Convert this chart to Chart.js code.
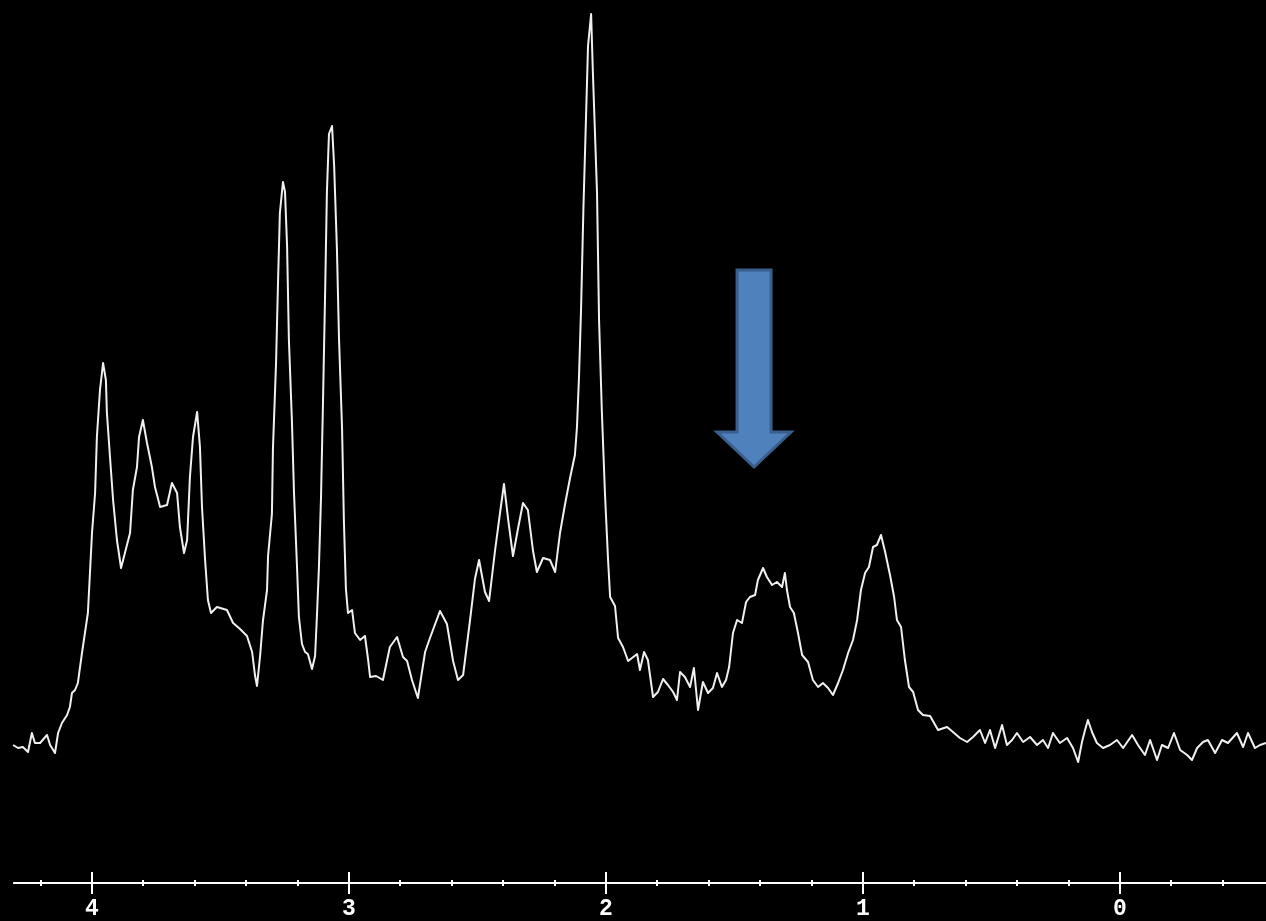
<!DOCTYPE html>
<html>
<head>
<meta charset="utf-8">
<script src="https://cdn.jsdelivr.net/npm/chart.js@4/dist/chart.umd.min.js"></script>
<style>
  html, body { margin: 0; padding: 0; background: #000; overflow: hidden; }
  canvas { display: block; }
</style>
</head>
<body>
<canvas id="spectrum" width="1266" height="921"></canvas>
<script>
// chemical shift (ppm) from left to right
var shiftPpm = [
  4.307, 4.288, 4.269, 4.249, 4.234, 4.222, 4.202, 4.175, 4.163, 4.144,
  4.132, 4.117, 4.097, 4.086, 4.078, 4.066, 4.055, 4.039, 4.016, 4.008,
  4.000, 3.988, 3.981, 3.969, 3.957, 3.946, 3.942, 3.930, 3.918, 3.903,
  3.887, 3.872, 3.852, 3.841, 3.825, 3.817, 3.802, 3.786, 3.767, 3.755,
  3.735, 3.708, 3.689, 3.669, 3.658, 3.642, 3.630, 3.619, 3.607, 3.591,
  3.580, 3.572, 3.560, 3.549, 3.537, 3.514, 3.475, 3.451, 3.424, 3.397,
  3.377, 3.366, 3.358, 3.346, 3.335, 3.319, 3.315, 3.300, 3.296, 3.284,
  3.276, 3.269, 3.257, 3.249, 3.241, 3.234, 3.222, 3.214, 3.202, 3.195,
  3.183, 3.171, 3.160, 3.144, 3.132, 3.125, 3.117, 3.109, 3.101, 3.093,
  3.086, 3.078, 3.066, 3.058, 3.047, 3.039, 3.027, 3.020, 3.012, 3.004,
  2.988, 2.977, 2.957, 2.938, 2.926, 2.918, 2.895, 2.868, 2.841, 2.813,
  2.790, 2.774, 2.755, 2.732, 2.704, 2.685, 2.646, 2.619, 2.595, 2.576,
  2.556, 2.529, 2.510, 2.494, 2.471, 2.455, 2.432, 2.413, 2.397, 2.381,
  2.362, 2.342, 2.323, 2.304, 2.284, 2.269, 2.245, 2.218, 2.198, 2.179,
  2.160, 2.140, 2.121, 2.113, 2.105, 2.097, 2.088, 2.078, 2.070, 2.058,
  2.051, 2.035, 2.027, 2.016, 2.004, 1.992, 1.984, 1.965, 1.953, 1.934,
  1.914, 1.879, 1.868, 1.852, 1.837, 1.817, 1.798, 1.778, 1.759, 1.739,
  1.724, 1.712, 1.693, 1.673, 1.658, 1.642, 1.623, 1.603, 1.584, 1.568,
  1.549, 1.533, 1.521, 1.506, 1.490, 1.471, 1.455, 1.440, 1.420, 1.409,
  1.389, 1.374, 1.354, 1.335, 1.315, 1.304, 1.296, 1.284, 1.269, 1.253,
  1.237, 1.214, 1.195, 1.175, 1.156, 1.136, 1.117, 1.097, 1.078, 1.058,
  1.039, 1.023, 1.008, 0.992, 0.977, 0.961, 0.946, 0.930, 0.914, 0.895,
  0.879, 0.868, 0.852, 0.837, 0.821, 0.805, 0.786, 0.767, 0.739, 0.708,
  0.673, 0.650, 0.623, 0.595, 0.572, 0.545, 0.525, 0.506, 0.486, 0.459,
  0.440, 0.420, 0.401, 0.377, 0.350, 0.323, 0.300, 0.280, 0.261, 0.234,
  0.206, 0.183, 0.163, 0.148, 0.136, 0.125, 0.109, 0.090, 0.066, 0.039,
  0.012, -0.012, -0.047, -0.070, -0.097, -0.117, -0.144, -0.163, -0.187, -0.210,
  -0.234, -0.261, -0.280, -0.300, -0.323, -0.342, -0.370, -0.397, -0.420, -0.455,
  -0.479, -0.498, -0.525, -0.545, -0.568
];

// signal intensity (arbitrary units, baseline ~0)
var intensity = [
  0, -3, -2, -7, 12, 2, 2, 10, 0, -8,
  12, 22, 30, 38, 52, 55, 62, 92, 132, 172,
  212, 252, 308, 355, 382, 365, 332, 288, 245, 205,
  177, 192, 212, 255, 278, 308, 325, 302, 278, 258,
  238, 240, 262, 252, 218, 192, 205, 268, 308, 333,
  298, 238, 185, 145, 132, 138, 135, 122, 116, 109,
  93, 70, 59, 89, 124, 155, 189, 231, 296, 381,
  465, 532, 563, 553, 499, 406, 323, 252, 176, 128,
  101, 93, 91, 76, 89, 128, 178, 247, 346, 452,
  553, 611, 619, 580, 496, 407, 316, 225, 156, 132,
  135, 112, 105, 109, 86, 68, 69, 65, 98, 108,
  88, 84, 65, 47, 93, 107, 134, 121, 84, 65,
  70, 125, 166, 185, 153, 144, 194, 231, 261, 226,
  189, 217, 242, 235, 194, 173, 187, 185, 173, 212,
  240, 267, 290, 318, 369, 437, 536, 626, 699, 731,
  672, 552, 424, 332, 251, 185, 148, 139, 107, 98,
  84, 91, 75, 93, 85, 48, 53, 66, 60, 53,
  45, 73, 68, 58, 77, 35, 63, 52, 57, 72,
  58, 65, 78, 112, 125, 122, 143, 148, 150, 165,
  177, 168, 160, 163, 158, 172, 155, 138, 132, 112,
  90, 83, 65, 58, 62, 57, 50, 62, 75, 92,
  105, 125, 155, 172, 178, 198, 200, 210, 193, 170,
  148, 125, 118, 85, 58, 53, 35, 30, 29, 15,
  18, 13, 7, 3, 8, 15, 2, 15, -3, 20,
  0, 5, 12, 3, 8, 0, 5, -3, 12, 2,
  7, -3, -17, 3, 15, 25, 13, 2, -3, 0,
  5, -3, 10, 0, -10, 5, -15, 0, -3, 12,
  -5, -10, -15, -3, 3, 5, -8, 5, 2, 12,
  -2, 12, -3, 0, 2
];

var majorTicks = [4, 3, 2, 1, 0];
var minorTicks = [4.2, 3.8, 3.6, 3.4, 3.2, 2.8, 2.6, 2.4, 2.2, 1.8, 1.6, 1.4, 1.2,
                  0.8, 0.6, 0.4, 0.2, -0.2, -0.4];

// arrow annotation: ppm position, tail top, head base, tip (intensity units)
var arrowPpm = 1.424;
var arrowTop = 475;
var arrowHeadBase = 313;
var arrowTip = 278;

var points = shiftPpm.map(function (p, i) { return { x: p, y: intensity[i] }; });

var background = {
  id: 'background',
  beforeDraw: function (chart) {
    var c = chart.ctx;
    c.save();
    c.fillStyle = '#000';
    c.fillRect(0, 0, chart.width, chart.height);
    c.restore();
  }
};

var ppmAxis = {
  id: 'ppmAxis',
  afterDraw: function (chart) {
    var c = chart.ctx;
    var xs = chart.scales.x;
    var yLine = chart.chartArea.bottom;
    c.save();
    c.strokeStyle = '#fff';
    c.lineWidth = 2;
    c.beginPath();
    c.moveTo(xs.getPixelForValue(shiftPpm[0]), yLine);
    c.lineTo(chart.width, yLine);
    c.stroke();

    majorTicks.forEach(function (t) {
      var px = Math.round(xs.getPixelForValue(t));
      c.beginPath();
      c.moveTo(px, yLine - 11);
      c.lineTo(px, yLine + 11);
      c.stroke();
    });
    minorTicks.forEach(function (t) {
      var px = Math.round(xs.getPixelForValue(t));
      c.beginPath();
      c.moveTo(px, yLine - 3);
      c.lineTo(px, yLine + 3);
      c.stroke();
    });

    c.fillStyle = '#fff';
    c.font = 'bold 23px "Liberation Mono", "DejaVu Sans Mono", monospace';
    c.textAlign = 'center';
    c.textBaseline = 'top';
    majorTicks.forEach(function (t) {
      c.fillText(String(t), xs.getPixelForValue(t), yLine + 15);
    });
    c.restore();
  }
};

var arrow = {
  id: 'arrow',
  afterDraw: function (chart) {
    var c = chart.ctx;
    var xs = chart.scales.x, ys = chart.scales.y;
    var cx = xs.getPixelForValue(arrowPpm);
    var top = ys.getPixelForValue(arrowTop);
    var base = ys.getPixelForValue(arrowHeadBase);
    var tip = ys.getPixelForValue(arrowTip);
    var shaft = 17, head = 37;
    c.save();
    c.beginPath();
    c.moveTo(cx - shaft, top);
    c.lineTo(cx + shaft, top);
    c.lineTo(cx + shaft, base);
    c.lineTo(cx + head, base);
    c.lineTo(cx, tip);
    c.lineTo(cx - head, base);
    c.lineTo(cx - shaft, base);
    c.closePath();
    c.fillStyle = '#4f81bd';
    c.fill();
    c.lineWidth = 3;
    c.lineJoin = 'miter';
    c.strokeStyle = '#3a5f8c';
    c.stroke();
    c.restore();
  }
};

var ctx = document.getElementById('spectrum').getContext('2d');
new Chart(ctx, {
  type: 'line',
  data: {
    datasets: [{
      label: 'spectrum',
      data: points,
      borderColor: '#f0f0f0',
      borderWidth: 2,
      borderJoinStyle: 'round',
      pointRadius: 0,
      tension: 0,
      fill: false
    }]
  },
  options: {
    responsive: false,
    animation: false,
    devicePixelRatio: 1,
    layout: { padding: { top: 0, left: 0, right: 0, bottom: 38 } },
    plugins: {
      legend: { display: false },
      tooltip: { enabled: false }
    },
    scales: {
      x: {
        type: 'linear',
        reverse: true,
        min: -0.568,
        max: 4.358,
        display: false
      },
      y: {
        min: -138,
        max: 745,
        display: false
      }
    }
  },
  plugins: [background, ppmAxis, arrow]
});
</script>
</body>
</html>
